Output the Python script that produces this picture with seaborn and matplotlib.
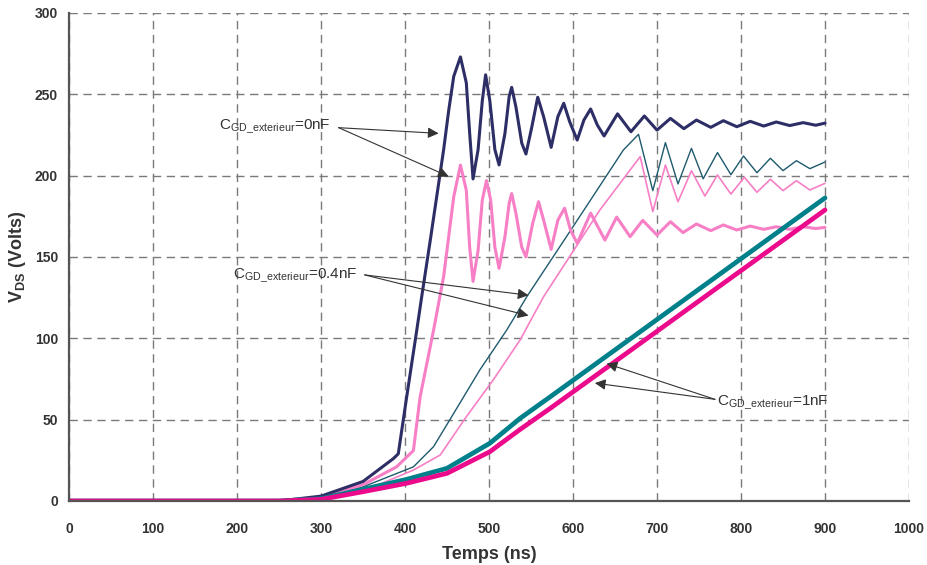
import matplotlib
matplotlib.use("Agg")
import matplotlib.pyplot as plt
import seaborn as sns

# Values (t in ns, V in volts)
t_nav = [0, 250, 300, 350, 386, 392, 402, 414, 420, 430, 446, 452, 458, 466, 473, 477, 481, 487, 492,
         496, 501, 507, 512, 519, 524, 527, 532, 539, 544, 551, 558, 565, 574, 582, 589, 596, 605,
         613, 621, 629, 637, 653, 669, 685, 700, 716, 732, 747, 764, 779, 795, 811, 827, 842, 858,
         874, 889, 900]
v_nav = [0, 0, 3, 12, 26, 29, 64, 105, 126, 160, 216, 240, 261, 273, 257, 226, 198, 216, 246,
         262, 246, 216, 206.6, 226, 248.6, 254.3, 242.4, 220, 213.3, 230, 248.2, 236.3, 217.4, 236.3, 244.5, 233.2, 221.9,
         234.2, 241, 231.1, 224.4, 238, 227, 236.7, 228, 235.2, 228.9, 234.2, 229.7, 233.8, 230.1, 233.4, 230.5, 233, 230.8,
         232.6, 231, 232.3]

t_pk0 = [0, 250, 300, 350, 390, 410, 418, 434, 446, 452, 458, 466, 473, 477, 481, 487, 492, 497, 502,
         507, 512, 519, 524, 527, 532, 539, 544, 552, 559, 565, 574, 582, 590, 597, 605, 621, 638,
         652, 668, 683, 700, 716, 731, 747, 764, 779, 795, 811, 827, 842, 858, 874, 889, 900]
v_pk0 = [0, 0, 2, 10, 21, 31, 64, 105, 138, 162.5, 187, 206.5, 191, 156, 135, 154, 185, 197, 185,
         156, 143, 162.5, 183, 189, 177, 156, 150, 170.7, 184, 172.7, 154.7, 172.7, 180, 166.6, 158.4, 177, 160.4,
         174.5, 162.5, 172.5, 163.5, 171.7, 165, 170.3, 166.2, 169.7, 166.6, 169, 167, 168.6, 167, 168.6, 167.5, 168.2]

t_tl4 = [0, 250, 300, 350, 410, 434, 458, 489, 521, 545, 600, 660, 678, 695, 710, 725, 741, 755, 772,
         788, 803, 819, 835, 850, 866, 882, 900]
v_tl4 = [0, 0, 1.5, 8.7, 21, 33.4, 53.9, 80.5, 105, 125.6, 168.6, 215.8, 225.4, 190.8, 220.3, 194.9, 216.8, 198.1, 214.2,
         200.6, 212.1, 201.8, 210.7, 203.1, 209.2, 204.3, 208.4]

t_pk4 = [0, 250, 300, 350, 410, 442, 473, 505, 537, 565, 632, 680, 695, 710, 725, 741, 757, 772, 788,
         804, 819, 835, 850, 866, 882, 900]
v_pk4 = [0, 0, 1, 6, 19, 28.3, 51.8, 74.4, 99, 125.6, 178.9, 211.7, 177.9, 206.5, 184, 203, 187.5, 200.4, 188.7,
         199, 189.8, 197.8, 190.8, 196.9, 191.2, 195.3]

t_tl1 = [0, 250, 300, 350, 402, 450, 501, 537, 573, 900]
v_tl1 = [0, 0, 1.4, 7.2, 13.3, 20.1, 35.5, 50.8, 64.1, 186.3]

t_mg1 = [0, 250, 300, 350, 402, 450, 501, 537, 573, 900]
v_mg1 = [0, 0, 1, 5.7, 10.9, 17, 30.3, 44, 57, 178.9]

x_ticks = list(range(0, 1001, 100))
y_ticks = list(range(0, 301, 50))

sns.set_theme(style="white")
plt.rcParams['font.family'] = ['Liberation Sans', 'DejaVu Sans']
plt.rcParams['mathtext.fontset'] = 'custom'
plt.rcParams['mathtext.rm'] = 'Liberation Sans'
plt.rcParams['mathtext.bf'] = 'Liberation Sans:bold'

fig = plt.figure(figsize=(9.27, 5.65), dpi=100)
ax = fig.add_axes([69 / 927, 1 - 501 / 565, 840 / 927, 488 / 565])

series = [
    (t_tl4, v_tl4, '#1f5a6e', 1.0),
    (t_pk4, v_pk4, '#f77fc6', 1.2),
    (t_pk0, v_pk0, '#f77fc6', 2.2),
    (t_nav, v_nav, '#2e2e66', 2.2),
    (t_tl1, v_tl1, '#00808a', 3.4),
    (t_mg1, v_mg1, '#ec0a8c', 3.4),
]
for tt, vv, col, lw in series:
    sns.lineplot(x=tt, y=vv, ax=ax, color=col, linewidth=lw, sort=False, estimator=None,
                 solid_joinstyle='round')

ax.set_xlim(0, 1000)
ax.set_ylim(0, 300)
ax.set_xticks(x_ticks)
ax.set_yticks(y_ticks)
ax.grid(True, color='#7a7a7a', linestyle=(0, (6, 4)), linewidth=1.0)
ax.set_axisbelow(True)

for s in ['top', 'right']:
    ax.spines[s].set_visible(False)
for s in ['left', 'bottom']:
    ax.spines[s].set_color('#555555')
    ax.spines[s].set_linewidth(1.6)

ax.tick_params(axis='x', direction='out', length=3, width=1, color='#555555', pad=12,
               labelsize=10, labelcolor='#333333')
ax.tick_params(axis='y', direction='out', length=3, width=1, color='#555555', pad=5,
               labelsize=10, labelcolor='#333333')
for lab in ax.get_xticklabels() + ax.get_yticklabels():
    lab.set_fontweight('bold')

ax.set_xlabel('Temps (ns)', fontsize=13, fontweight='bold', color='#333333')
ax.set_ylabel(r'V$_{\mathbf{DS}}$ (Volts)', fontsize=13, fontweight='bold', color='#333333')
ax.xaxis.set_label_coords(0.5, -0.092)
ax.yaxis.set_label_coords(-0.049, 0.5)

arr = dict(arrowstyle='-|>', color='#333333', lw=0.8, mutation_scale=16, shrinkA=0, shrinkB=0)
txt = dict(fontsize=11, color='#333333', va='center')

ax.text(311, 230, r'C$_{\mathrm{GD\_exterieur}}$=0nF', ha='right', **txt)
ax.annotate('', xy=(440, 226), xytext=(321, 229.5), arrowprops=arr)
ax.annotate('', xy=(452, 199.5), xytext=(321, 229.5), arrowprops=arr)

ax.text(343, 138.5, r'C$_{\mathrm{GD\_exterieur}}$=0.4nF', ha='right', **txt)
ax.annotate('', xy=(547, 126.5), xytext=(352, 139), arrowprops=arr)
ax.annotate('', xy=(547, 114), xytext=(352, 139), arrowprops=arr)

ax.text(772, 60.5, r'C$_{\mathrm{GD\_exterieur}}$=1nF', ha='left', **txt)
ax.annotate('', xy=(640, 84.5), xytext=(769, 62.5), arrowprops=arr)
ax.annotate('', xy=(626, 72.5), xytext=(769, 62.5), arrowprops=arr)

fig.savefig('out.png', dpi=100)
